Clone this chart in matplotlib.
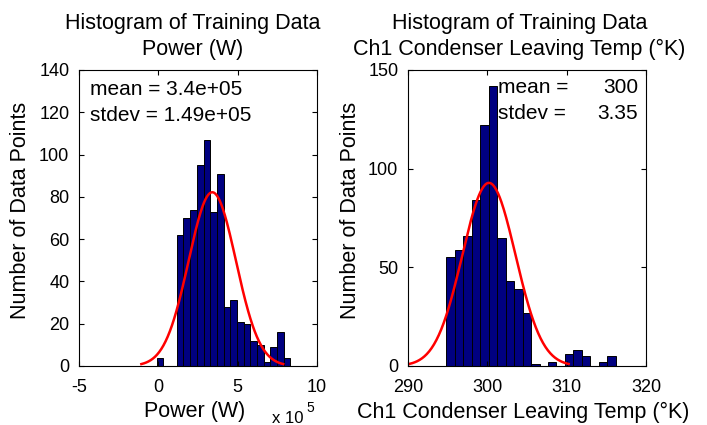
import numpy as np
import matplotlib
matplotlib.use("Agg")
import matplotlib.pyplot as plt

plt.rcParams['font.family'] = ['Liberation Sans', 'DejaVu Sans']
plt.rcParams['axes.unicode_minus'] = False

# power histogram (x in units of 1e5 W)
power_edges = [-0.10, 0.32, 0.74, 1.16, 1.58, 2.01, 2.43, 2.85, 3.27, 3.69, 4.11,
               4.53, 4.95, 5.37, 5.79, 6.22, 6.64, 7.06, 7.48, 7.90, 8.32]
power_counts = [4, 0, 0, 62, 70, 74, 95, 107, 73, 91, 28,
                31, 21, 20, 12, 10, 2, 9, 16, 4]
power_mean = 3.4
power_std = 1.49

# condenser leaving temp histogram
temp_edges = [294.85, 295.92, 296.98, 298.05, 299.11, 300.18, 301.25, 302.31, 303.38,
              304.44, 305.51, 306.58, 307.64, 308.71, 309.77, 310.84, 311.91, 312.97,
              314.04, 315.10, 316.17]
temp_counts = [55, 59, 66, 84, 122, 142, 65, 43, 39, 27,
               1, 0, 2, 0, 6, 8, 5, 0, 2, 5]
temp_mean = 300.2
temp_std = 3.35

W, H = 707, 425
fig = plt.figure(figsize=(W / 100, H / 100), dpi=100)


def fx(x):
    return x / W


def fy(y):
    return 1 - y / H


def draw_hist(ax, edges, counts, mu, sd):
    edges = np.array(edges)
    counts = np.array(counts)
    widths = np.diff(edges)
    ax.bar(edges[:-1], counts, width=widths, align='edge',
           color='#000080', edgecolor='black', linewidth=0.7)
    # fitted normal curve, scaled to the histogram
    xs = np.linspace(mu - 3 * sd, mu + 3 * sd, 200)
    scale = counts.sum() * widths.mean()
    ys = scale * np.exp(-0.5 * ((xs - mu) / sd) ** 2) / (sd * np.sqrt(2 * np.pi))
    ax.plot(xs, ys, color='red', linewidth=1.8)
    ax.tick_params(direction='in', length=3.5, width=0.8, labelsize=13,
                   top=True, right=True, pad=7)
    ax.tick_params(axis='x', pad=9)
    for s in ax.spines.values():
        s.set_linewidth(0.8)


ax1 = fig.add_axes([fx(79), fy(366), fx(317) - fx(79), fy(70) - fy(366)])
draw_hist(ax1, power_edges, power_counts, power_mean, power_std)
ax1.set_xlim(-5, 10)
ax1.set_ylim(0, 140)
ax1.set_xticks([-5, 0, 5, 10])
ax1.set_yticks(range(0, 141, 20))

ax2 = fig.add_axes([fx(408), fy(366), fx(646) - fx(408), fy(70) - fy(366)])
draw_hist(ax2, temp_edges, temp_counts, temp_mean, temp_std)
ax2.set_xlim(290, 320)
ax2.set_ylim(0, 150)
ax2.set_xticks([290, 300, 310, 320])
ax2.set_yticks([0, 50, 100, 150])

fs = 15.5
# titles
fig.text(fx(192.5), fy(29), 'Histogram of Training Data', ha='center', va='baseline', fontsize=fs)
fig.text(fx(192.5), fy(55), 'Power (W)', ha='center', va='baseline', fontsize=fs)
fig.text(fx(520), fy(29), 'Histogram of Training Data', ha='center', va='baseline', fontsize=fs)
fig.text(fx(519), fy(55), 'Ch1 Condenser Leaving Temp (°K)', ha='center', va='baseline', fontsize=fs)

# axis labels
fig.text(fx(194.5), fy(417), 'Power (W)', ha='center', va='baseline', fontsize=fs)
fig.text(fx(523.5), fy(418), 'Ch1 Condenser Leaving Temp (°K)', ha='center', va='baseline', fontsize=fs)
fig.text(fx(21), fy(210), 'Number of Data Points', rotation=90, ha='center', va='center', fontsize=fs)
fig.text(fx(350), fy(210), 'Number of Data Points', rotation=90, ha='center', va='center', fontsize=fs)

# exponent
fig.text(fx(272), fy(423), 'x 10', ha='left', va='baseline', fontsize=12)
fig.text(fx(306), fy(412), '5', ha='left', va='baseline', fontsize=10)

# stats text
fig.text(fx(90), fy(95), 'mean = 3.4e+05', ha='left', va='baseline', fontsize=15)
fig.text(fx(90), fy(121), 'stdev = 1.49e+05', ha='left', va='baseline', fontsize=15)
fig.text(fx(498), fy(93), 'mean =', ha='left', va='baseline', fontsize=15)
fig.text(fx(638), fy(93), '300', ha='right', va='baseline', fontsize=15)
fig.text(fx(498), fy(119), 'stdev =', ha='left', va='baseline', fontsize=15)
fig.text(fx(638), fy(119), '3.35', ha='right', va='baseline', fontsize=15)

fig.savefig('out.png', dpi=100)
